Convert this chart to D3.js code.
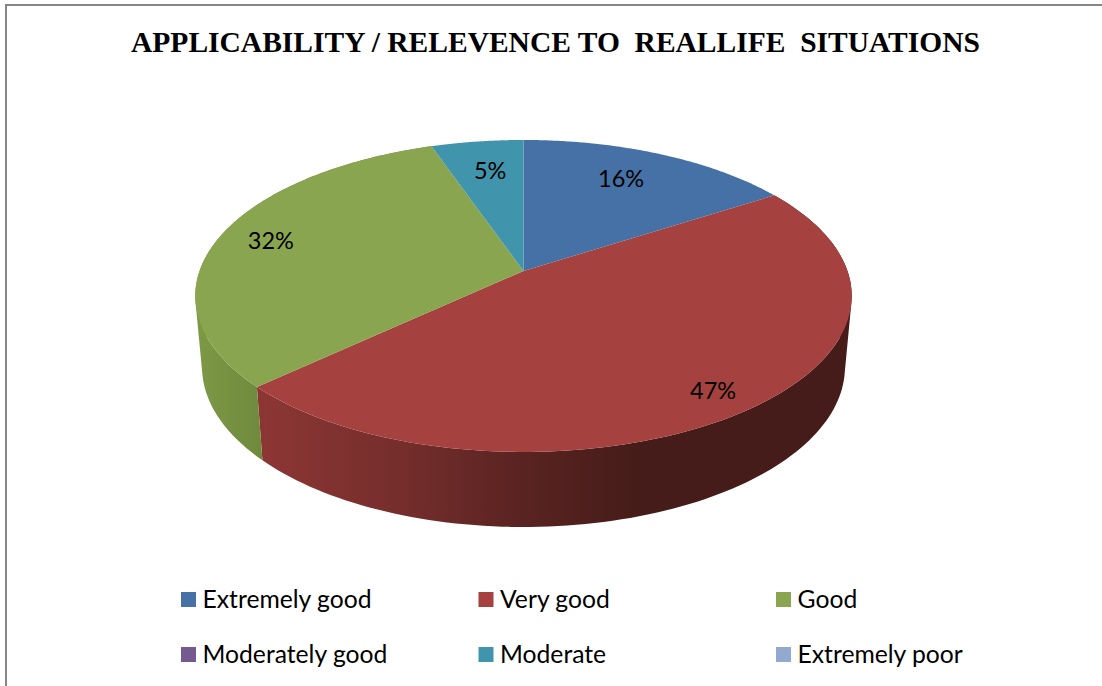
<!DOCTYPE html>
<html>
  <head>
    <meta charset="utf-8">
    <title>Applicability / relevence to reallife situations</title>
    <script src="https://cdn.jsdelivr.net/npm/d3@7"></script>
    <style>
      body { margin: 0; background: #fff; }
      svg { display: block; }
      text { white-space: pre; }
      .title { font: bold 29.5px "Liberation Serif", serif; fill: #000; }
      .label, .legend { font-family: Lato, sans-serif; fill: #000; }
      .label { font-size: 23.5px; }
      .legend { font-size: 24.7px; }
    </style>
  </head>

  <body>
    <svg id="chart" width="1102" height="686"></svg>

    <script>
      // data
      titleText = "APPLICABILITY / RELEVENCE TO  REALLIFE  SITUATIONS";
      categories = ["Extremely good", "Very good", "Good", "Moderately good", "Moderate", "Extremely poor"];
      values = [15.9, 47.2, 31.6, 0, 5.3, 0];
      colors = ["#4571a6", "#a5423f", "#8aa54f", "#745a8f", "#4095ad", "#93a9cf"];

      // side wall shading, left to right
      wallColors = {
        "Very good": ["#8c3634", "#752e2c", "#5c2422", "#451c19"],
        "Good": ["#7c9845", "#708a3d"]
      };
      wallStops = {
        "Very good": [262, 400, 510, 640],
        "Good": [200, 262]
      };

      // label anchors on the unit disc (right, back)
      labelSpots = [[.334, .678], [.52, -.696], [-.806, .211], null, [-.115, .743], null];

      chart = d3.select("#chart");

      // frame runs off the right and bottom of the picture
      chart.append("rect")
        .attr("x", 6).attr("y", 5)
        .attr("width", 1200).attr("height", 800)
        .attr("fill", "none")
        .attr("stroke", "#868686")
        .attr("stroke-width", 2);

      chart.append("text")
        .attr("class", "title")
        .attr("x", 555.5).attr("y", 52)
        .attr("text-anchor", "middle")
        .text(titleText);

      // tilted disc in perspective, so the apex sits above the middle of the ellipse
      function projector(cx, cy, a, b, c) {
        return function(u, v) {
          w = 1 + c * v;
          return [cx + a * u / w, cy - b * v / w];
        };
      }
      topDisc = projector(523.5, 271, 324, 152, .16);
      bottomDisc = projector(523.5, 341.4, 317.3, 155.9, .16);

      // points along a rim, angle 0 at 12 o'clock going clockwise
      function rim(disc, a0, a1) {
        return d3.range(0, 121).map(function(i) {
          a = a0 + (a1 - a0) * i / 120;
          return disc(Math.sin(a), Math.cos(a));
        });
      }

      pie = d3.pie().sort(null).value(function(d) { return d; });
      slices = pie(values);
      line = d3.line();
      defs = chart.append("defs");

      // walls first, the top face covers whatever is behind it
      slices.forEach(function(d, i) {
        name = categories[i];
        if (!wallColors[name]) return;
        id = "wall" + i;
        x0 = wallStops[name][0];
        x1 = wallStops[name][wallStops[name].length - 1];
        offset = d3.scaleLinear().domain([x0, x1]).range([0, 1]);
        defs.append("linearGradient")
          .attr("id", id)
          .attr("gradientUnits", "userSpaceOnUse")
          .attr("x1", x0).attr("x2", x1)
          .attr("y1", 0).attr("y2", 0)
          .selectAll("stop")
          .data(wallColors[name])
          .join("stop")
            .attr("offset", function(e, j) { return offset(wallStops[name][j]); })
            .attr("stop-color", function(e) { return e; });
        // one quad per rim step, all wound the same way or the overlaps at the silhouette cancel out
        upper = rim(topDisc, d.startAngle, d.endAngle);
        lower = rim(bottomDisc, d.startAngle, d.endAngle);
        quads = d3.range(0, 120).map(function(j) {
          quad = [upper[j], upper[j + 1], lower[j + 1], lower[j]];
          if (d3.polygonArea(quad) < 0) quad.reverse();
          return line(quad) + "Z";
        }).join("");
        chart.append("path")
          .attr("d", quads)
          .attr("fill", "url(#" + id + ")");
      });

      slices.forEach(function(d, i) {
        if (d.value == 0) return;
        pts = [topDisc(0, 0)].concat(rim(topDisc, d.startAngle, d.endAngle));
        chart.append("path")
          .attr("d", line(pts) + "Z")
          .attr("fill", colors[i]);
      });

      // percent labels
      slices.forEach(function(d, i) {
        if (!labelSpots[i]) return;
        p = topDisc(labelSpots[i][0], labelSpots[i][1]);
        chart.append("text")
          .attr("class", "label")
          .attr("x", p[0]).attr("y", p[1])
          .attr("text-anchor", "middle")
          .attr("dominant-baseline", "central")
          .text(d3.format(".0f")(d.value) + "%");
      });

      // legend, three columns by two rows
      legendX = d3.scalePoint().domain([0, 1, 2]).range([181, 776]);
      legendY = d3.scalePoint().domain([0, 1]).range([592, 647]);
      legend = chart.selectAll(".item")
        .data(categories)
        .join("g")
          .attr("class", "item")
          .attr("transform", function(d, i) {
            return "translate(" + legendX(i % 3) + "," + legendY(Math.floor(i / 3)) + ")";
          });
      legend.append("rect")
        .attr("width", 15).attr("height", 15)
        .attr("fill", function(d, i) { return colors[i]; });
      legend.append("text")
        .attr("class", "legend")
        .attr("x", 21.5).attr("y", 15.6)
        .text(function(d) { return d; });
    </script>
  </body>
</html>
